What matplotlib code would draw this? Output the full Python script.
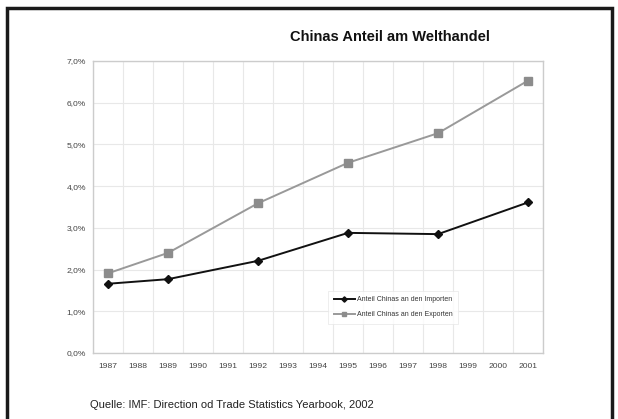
import matplotlib.pyplot as plt
from matplotlib.patches import Rectangle

plt.rcParams['font.family'] = ['Liberation Sans', 'DejaVu Sans']

# Kategorien (Jahre) und Messpunkte in Prozent
years = list(range(1987, 2002))
data_years = [1987, 1989, 1992, 1995, 1998, 2001]
importe = [1.66, 1.77, 2.21, 2.88, 2.85, 3.61]
exporte = [1.91, 2.40, 3.59, 4.56, 5.27, 6.53]
yticks = [0, 1, 2, 3, 4, 5, 6, 7]

fig = plt.figure(figsize=(6.18, 4.19), dpi=100)
ax = fig.add_axes([0.1505, 0.1575, 0.7282, 0.6969])

xi = [years.index(y) for y in data_years]
ax.plot(xi, importe, color='#111111', lw=1.4, marker='D', ms=4.5,
        label='Anteil Chinas an den Importen')
ax.plot(xi, exporte, color='#999999', lw=1.4, marker='s', ms=5.5,
        mfc='#8c8c8c', mec='#8c8c8c', label='Anteil Chinas an den Exporten')

ax.set_xlim(-0.5, len(years) - 0.5)
ax.set_ylim(0, 7)
ax.set_yticks(yticks)
ax.set_yticklabels([f'{v:.1f}%'.replace('.', ',') for v in yticks])
ax.set_xticks(range(len(years)))
ax.set_xticklabels([str(y) for y in years])
ax.set_xticks([i - 0.5 for i in range(len(years) + 1)], minor=True)

ax.grid(True, which='minor', axis='x', color='#e8e8e8', lw=0.8)
ax.grid(True, which='major', axis='y', color='#e8e8e8', lw=0.8)
ax.set_axisbelow(True)
ax.tick_params(axis='both', which='both', length=0, labelsize=6.1,
               colors='#444444', pad=7)
ax.tick_params(axis='y', pad=5)
for s in ax.spines.values():
    s.set_color('#cccccc')
    s.set_linewidth(1.0)

leg = ax.legend(loc='upper left', bbox_to_anchor=(0.515, 0.225),
                fontsize=5.0, frameon=True, fancybox=False, markerscale=0.6,
                handlelength=3.0, borderpad=0.8, labelspacing=1.1,
                handletextpad=0.3)
leg.get_frame().set_edgecolor('#e6e6e6')
leg.get_frame().set_linewidth(0.6)
for t in leg.get_texts():
    t.set_color('#333333')

fig.text(0.631, 0.912, 'Chinas Anteil am Welthandel', fontsize=10.5,
         fontweight='bold', ha='center', va='center', color='#111111')
fig.text(0.145, 0.033, 'Quelle: IMF: Direction od Trade Statistics Yearbook, 2002',
         fontsize=8.0, ha='left', va='center', color='#222222')

# schwarzer Rahmen um das Diagramm
fig.patches.append(Rectangle((0.011, -0.05), 0.98, 1.03, transform=fig.transFigure,
                             fill=False, ec='#1a1a1a', lw=2.5))

fig.savefig('out.png', dpi=100)
